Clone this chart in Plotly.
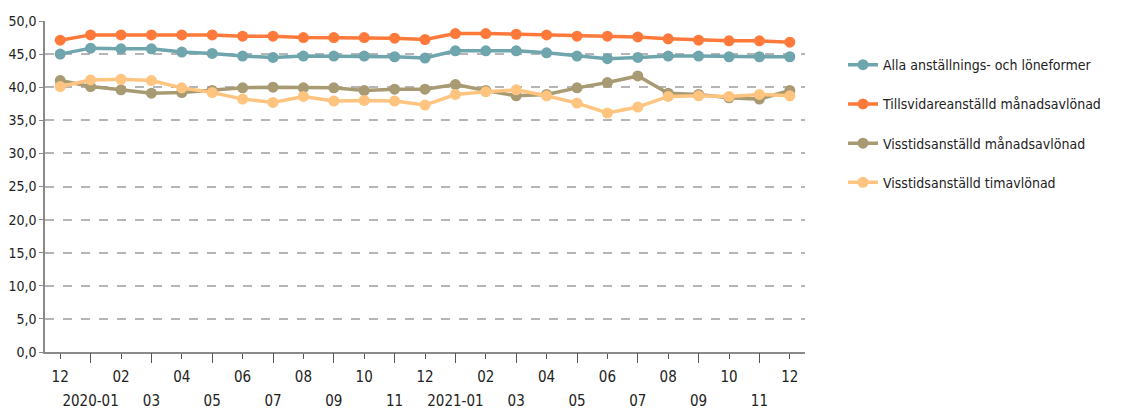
import plotly.graph_objects as go

months = ["2019-12", "2020-01", "2020-02", "2020-03", "2020-04", "2020-05", "2020-06",
          "2020-07", "2020-08", "2020-09", "2020-10", "2020-11", "2020-12",
          "2021-01", "2021-02", "2021-03", "2021-04", "2021-05", "2021-06",
          "2021-07", "2021-08", "2021-09", "2021-10", "2021-11", "2021-12"]
tick_labels = ["12", "2020-01", "02", "03", "04", "05", "06", "07", "08", "09", "10", "11",
               "12", "2021-01", "02", "03", "04", "05", "06", "07", "08", "09", "10", "11", "12"]
y_ticks = [0, 5, 10, 15, 20, 25, 30, 35, 40, 45, 50]
y_tick_labels = ["0,0", "5,0", "10,0", "15,0", "20,0", "25,0", "30,0", "35,0", "40,0", "45,0", "50,0"]

alla = [45.0, 45.9, 45.8, 45.8, 45.3, 45.1, 44.7, 44.5, 44.7, 44.7, 44.7, 44.6, 44.4,
        45.5, 45.5, 45.5, 45.2, 44.7, 44.3, 44.5, 44.7, 44.7, 44.6, 44.6, 44.6]
tillsvidare = [47.1, 47.9, 47.9, 47.9, 47.9, 47.9, 47.7, 47.7, 47.5, 47.5, 47.5, 47.4, 47.2,
               48.1, 48.1, 48.0, 47.9, 47.7, 47.7, 47.6, 47.3, 47.1, 47.0, 47.0, 46.8]
visstid_man = [41.0, 40.1, 39.6, 39.1, 39.2, 39.5, 39.9, 40.0, 39.9, 39.9, 39.5, 39.7, 39.7,
               40.4, 39.5, 38.7, 38.9, 39.9, 40.7, 41.7, 39.1, 38.9, 38.4, 38.2, 39.5]
visstid_tim = [40.1, 41.1, 41.2, 41.0, 39.9, 39.2, 38.2, 37.7, 38.6, 37.9, 38.0, 37.9, 37.3,
               38.9, 39.3, 39.6, 38.7, 37.6, 36.1, 37.0, 38.6, 38.7, 38.6, 38.9, 38.7]

series = [
    ("Alla anställnings- och löneformer", alla, "#6FA5AD"),
    ("Tillsvidareanställd månadsavlönad", tillsvidare, "#FF7A3A"),
    ("Visstidsanställd månadsavlönad", visstid_man, "#A89A72"),
    ("Visstidsanställd timavlönad", visstid_tim, "#FFC47F"),
]

x_idx = list(range(len(months)))
even_idx = [i for i in x_idx if i % 2 == 0]
odd_idx = [i for i in x_idx if i % 2 == 1]

fig = go.Figure()
for k, (name, vals, col) in enumerate(series):
    fig.add_trace(go.Scatter(
        x=x_idx, y=vals, name=name, mode="lines+markers",
        legendgroup="g%d" % k,
        line=dict(color=col, width=3.5),
        marker=dict(color=col, size=11, symbol="circle"),
        customdata=months,
        hovertemplate="%{customdata}: %{y:.1f}<extra>" + name + "</extra>",
    ))
# empty helper trace so the second (label-row) x axis is drawn
fig.add_trace(go.Scatter(x=[None], y=[None], xaxis="x2", yaxis="y",
                         showlegend=False, hoverinfo="skip"))

font_family = "Liberation Sans Narrow, DejaVu Sans Condensed, Arial Narrow, sans-serif"
x_range = [-0.5, len(months) - 0.5]

fig.update_layout(
    width=1113, height=404,
    margin=dict(l=37, r=316, t=13, b=60, autoexpand=False),
    paper_bgcolor="white", plot_bgcolor="white",
    font=dict(family=font_family, size=14, color="#222"),
    showlegend=True,
    legend=dict(
        x=1.05, y=0.915, xanchor="left", yanchor="top",
        font=dict(family=font_family, size=14, color="#222"),
        itemwidth=30, tracegroupgap=18, bgcolor="rgba(0,0,0,0)",
    ),
    xaxis=dict(
        range=x_range, automargin=False,
        tickmode="array", tickvals=even_idx, ticktext=[tick_labels[i] for i in even_idx],
        showgrid=False, zeroline=False,
        showline=True, linecolor="#8a8a8a", linewidth=2,
        ticks="outside", ticklen=5, tickcolor="#555", tickwidth=1,
        ticklabelstandoff=5,
        tickangle=0, tickfont=dict(size=15, color="#222"),
    ),
    xaxis2=dict(
        range=x_range, overlaying="x", anchor="y", side="bottom", automargin=False,
        tickmode="array", tickvals=odd_idx, ticktext=[tick_labels[i] for i in odd_idx],
        showgrid=False, zeroline=False, showline=False,
        ticks="outside", ticklen=10, tickcolor="#555", tickwidth=1,
        ticklabelstandoff=25,
        tickangle=0, tickfont=dict(size=15, color="#222"),
    ),
    yaxis=dict(
        range=[0, 50], tickmode="array", tickvals=y_ticks, ticktext=y_tick_labels,
        automargin=False,
        showgrid=True, gridcolor="#b5b5b5", gridwidth=1.5, griddash="dash",
        zeroline=False, showline=True, linecolor="#8a8a8a", linewidth=1.5,
        ticks="outside", ticklen=4, tickcolor="#8a8a8a",
        tickfont=dict(size=14, color="#222"),
    ),
)

fig.write_html("out.html")
